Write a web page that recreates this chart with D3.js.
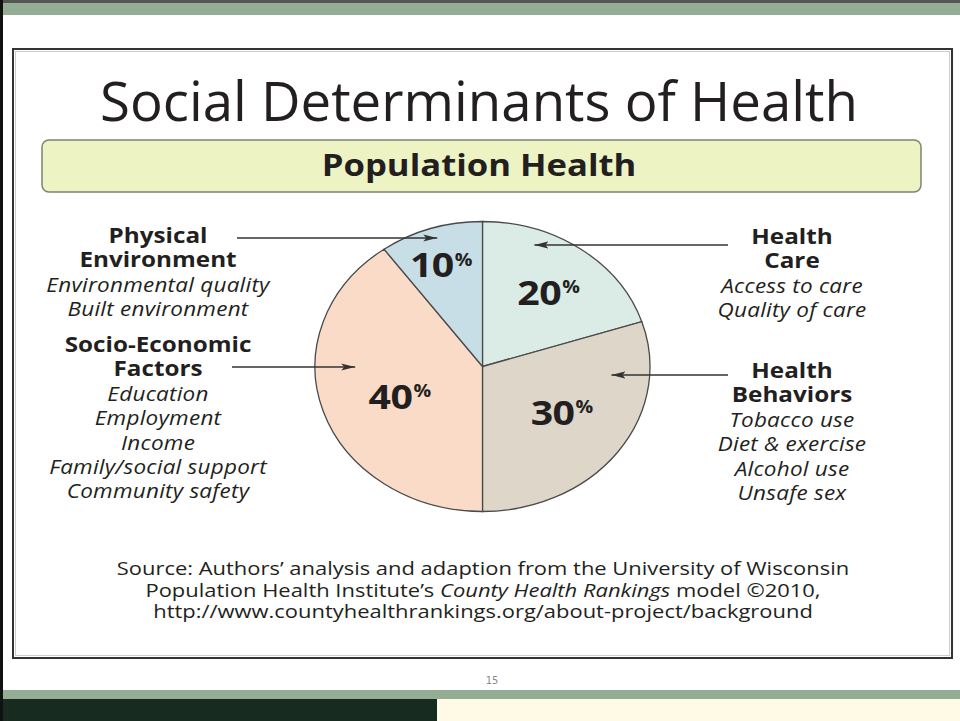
<!DOCTYPE html>
<html>
<head>
<meta charset="utf-8">
<script src="https://cdn.jsdelivr.net/npm/d3@7"></script>
<style>
  html, body { margin: 0; padding: 0; background: #fff; }
  svg { display: block; }
  text { font-family: "Open Sans", "Noto Sans", sans-serif; fill: #231f20; }
</style>
</head>
<body>
<div id="slide"></div>
<script>
// data
var factors = ["Health Care", "Health Behaviors", "Socio-Economic Factors", "Physical Environment"];
var shares = [20, 30, 40, 10];
var headings = [["Health", "Care"], ["Health", "Behaviors"], ["Socio-Economic", "Factors"], ["Physical", "Environment"]];
var subItems = [
    ["Access to care", "Quality of care"],
    ["Tobacco use", "Diet & exercise", "Alcohol use", "Unsafe sex"],
    ["Education", "Employment", "Income", "Family/social support", "Community safety"],
    ["Environmental quality", "Built environment"]
];
var sliceColors = ["#dbebe6", "#ded6c8", "#fadbc7", "#c7dee7"];
var sourceLines = [
    [["Source: Authors\u2019 analysis and adaption from the University of Wisconsin", false]],
    [["Population Health Institute\u2019s ", false], ["County Health Rankings", true], [" model \u00a92010,", false]],
    [["http://www.countyhealthrankings.org/about-project/background", false]]
];

var width = 960, height = 721;

var svg = d3.select("#slide")
    .append("svg")
    .attr("width", width)
    .attr("height", height);

// slide frame
svg.append("rect").attr("x", 0).attr("y", 0).attr("width", width).attr("height", height).attr("fill", "#fff");
svg.append("rect").attr("x", 0).attr("y", 3).attr("width", width).attr("height", 12).attr("fill", "#93ae94");
svg.append("rect").attr("x", 0).attr("y", 0).attr("width", width).attr("height", 3).attr("fill", "#555");
svg.append("rect").attr("x", 0).attr("y", 690).attr("width", width).attr("height", 9).attr("fill", "#93ae94");
svg.append("rect").attr("x", 0).attr("y", 699).attr("width", 437).attr("height", 22).attr("fill", "#172b20");
svg.append("rect").attr("x", 437).attr("y", 699).attr("width", width - 437).attr("height", 22).attr("fill", "#fefae6");
svg.append("rect").attr("x", 0).attr("y", 0).attr("width", 3).attr("height", height).attr("fill", "#111");
svg.append("text")
    .attr("x", 492).attr("y", 684)
    .attr("text-anchor", "middle")
    .style("font-family", "'DejaVu Sans Condensed', 'Liberation Sans Narrow', sans-serif")
    .style("font-size", "11px")
    .style("fill", "#8a8a8a")
    .text("15");

// picture box
svg.append("rect")
    .attr("x", 13).attr("y", 49).attr("width", 939).attr("height", 609)
    .attr("fill", "#fff")
    .attr("stroke", "#333").attr("stroke-width", 2);
svg.append("rect")
    .attr("x", 15.5).attr("y", 51.5).attr("width", 934).attr("height", 604)
    .attr("fill", "none")
    .attr("stroke", "#ccc").attr("stroke-width", 1);

// the picture is stretched sideways, so the pie is an ellipse and the type is wide
var cx = 482.5, cy = 366.5, ry = 145, rx = 167.5;
var sx = rx / ry;

function fitText(sel, target) {
    sel.attr("textLength", target).attr("lengthAdjust", "spacingAndGlyphs");
}

// stretched text, anchored like text-anchor
function wideText(x, y, str, size, weight, style, spacing) {
    var g = svg.append("g").attr("transform", "translate(" + x + "," + y + ") scale(" + sx + ",1)");
    var t = g.append("text")
        .attr("x", 0).attr("y", 0)
        .attr("text-anchor", "middle")
        .style("font-size", size + "px")
        .style("font-weight", weight || "400")
        .style("font-style", style || "normal")
        .style("letter-spacing", (spacing || 0) + "px")
        .text(str);
    return t;
}

// title
var title = svg.append("text")
    .attr("x", 479).attr("y", 121)
    .attr("text-anchor", "middle")
    .style("font-size", "55px")
    .text("Social Determinants of Health");
fitText(title, 758);

// title bar
svg.append("rect")
    .attr("x", 42).attr("y", 140).attr("width", 879).attr("height", 52)
    .attr("rx", 7).attr("ry", 7)
    .attr("fill", "#eef3c3")
    .attr("stroke", "#7f8470").attr("stroke-width", 1.5);
wideText(479, 176, "Population Health", 30, "700");

// pie (drawn as a circle, stretched into the ellipse of the picture)
var pie = d3.pie().sort(null).value(function (d) { return d; });
var arcs = pie(shares);
var arc = d3.arc().innerRadius(0).outerRadius(ry);

var pieG = svg.append("g")
    .attr("transform", "translate(" + cx + "," + cy + ") scale(" + sx + ",1)");

pieG.selectAll("path")
    .data(arcs)
    .enter()
    .append("path")
    .attr("d", arc)
    .attr("fill", function (d, i) { return sliceColors[i]; })
    .attr("stroke", "#4a4a4a")
    .attr("stroke-width", 1.3)
    .attr("vector-effect", "non-scaling-stroke");

// percent labels, radial position per slice (fraction of radius)
var labelRadius = [0.64, 0.57, 0.54, 0.74];
var labelAngleShift = [0.03, -0.03, -0.09, -0.03];

function ellipsePoint(angle, f) {
    return [cx + Math.sin(angle) * rx * f, cy - Math.cos(angle) * ry * f];
}

arcs.forEach(function (d, i) {
    var mid = (d.startAngle + d.endAngle) / 2 + labelAngleShift[i];
    var p = ellipsePoint(mid, labelRadius[i]);
    var g = pieG.append("g")
        .attr("transform", "translate(" + ((p[0] - cx) / sx) + "," + (p[1] - cy + 12) + ")");
    var num = g.append("text")
        .style("font-size", "34px")
        .style("font-weight", "700")
        .style("letter-spacing", "-0.5px")
        .text(d.data);
    var pct = g.append("text")
        .attr("y", -12)
        .style("font-size", "17px")
        .style("font-weight", "700")
        .text("%");
    var w1 = num.node().getComputedTextLength(), w2 = pct.node().getComputedTextLength();
    num.attr("x", -(w1 + w2) / 2);
    pct.attr("x", -(w1 + w2) / 2 + w1 + 1);
});

// arrow marker
var defs = svg.append("defs");
defs.append("marker")
    .attr("id", "arrowhead")
    .attr("viewBox", "0 0 14 8")
    .attr("refX", 14).attr("refY", 4)
    .attr("markerWidth", 14).attr("markerHeight", 8)
    .attr("markerUnits", "userSpaceOnUse")
    .attr("orient", "auto")
    .append("path")
    .attr("d", "M0,0.5 L14,4 L0,7.5 L3,4 Z")
    .attr("fill", "#333");

// label blocks: side, centre x, first baseline, arrow y, arrow start x, tip fraction of rx
var blockLayout = [
    { side: 1, x: 792, y: 244, ay: 245, ax: 728, tip: 0.31 },
    { side: 1, x: 792, y: 378, ay: 375, ax: 728, tip: 0.77 },
    { side: -1, x: 158, y: 352, ay: 367, ax: 232, tip: 0.76 },
    { side: -1, x: 158, y: 243, ay: 238, ax: 237, tip: 0.27 }
];
var lineH = 24.4;

factors.forEach(function (f, i) {
    var L = blockLayout[i];
    headings[i].forEach(function (h, j) {
        wideText(L.x, L.y + j * lineH, h, 21, "700");
    });
    subItems[i].forEach(function (s, j) {
        wideText(L.x, L.y + (j + 2) * lineH, s, 19.5, "400", "italic", 0.2);
    });
    var tipX = cx + L.side * rx * L.tip;
    svg.append("line")
        .attr("x1", L.ax).attr("y1", L.ay)
        .attr("x2", tipX).attr("y2", L.ay)
        .attr("stroke", "#333")
        .attr("stroke-width", 1.5)
        .attr("marker-end", "url(#arrowhead)");
});

// source note, each run its own text, centred as a line
sourceLines.forEach(function (parts, i) {
    var g = svg.append("g")
        .attr("transform", "translate(483," + (575 + i * 21.5) + ") scale(" + sx + ",1)");
    var runs = parts.map(function (p) {
        return g.append("text")
            .style("font-size", "19px")
            .style("font-style", p[1] ? "italic" : "normal")
            .style("white-space", "pre")
            .attr("xml:space", "preserve")
            .text(p[0]);
    });
    var widths = runs.map(function (r) { return r.node().getComputedTextLength(); });
    var x = -d3.sum(widths) / 2;
    runs.forEach(function (r, k) {
        r.attr("x", x);
        x += widths[k];
    });
});
</script>
</body>
</html>
